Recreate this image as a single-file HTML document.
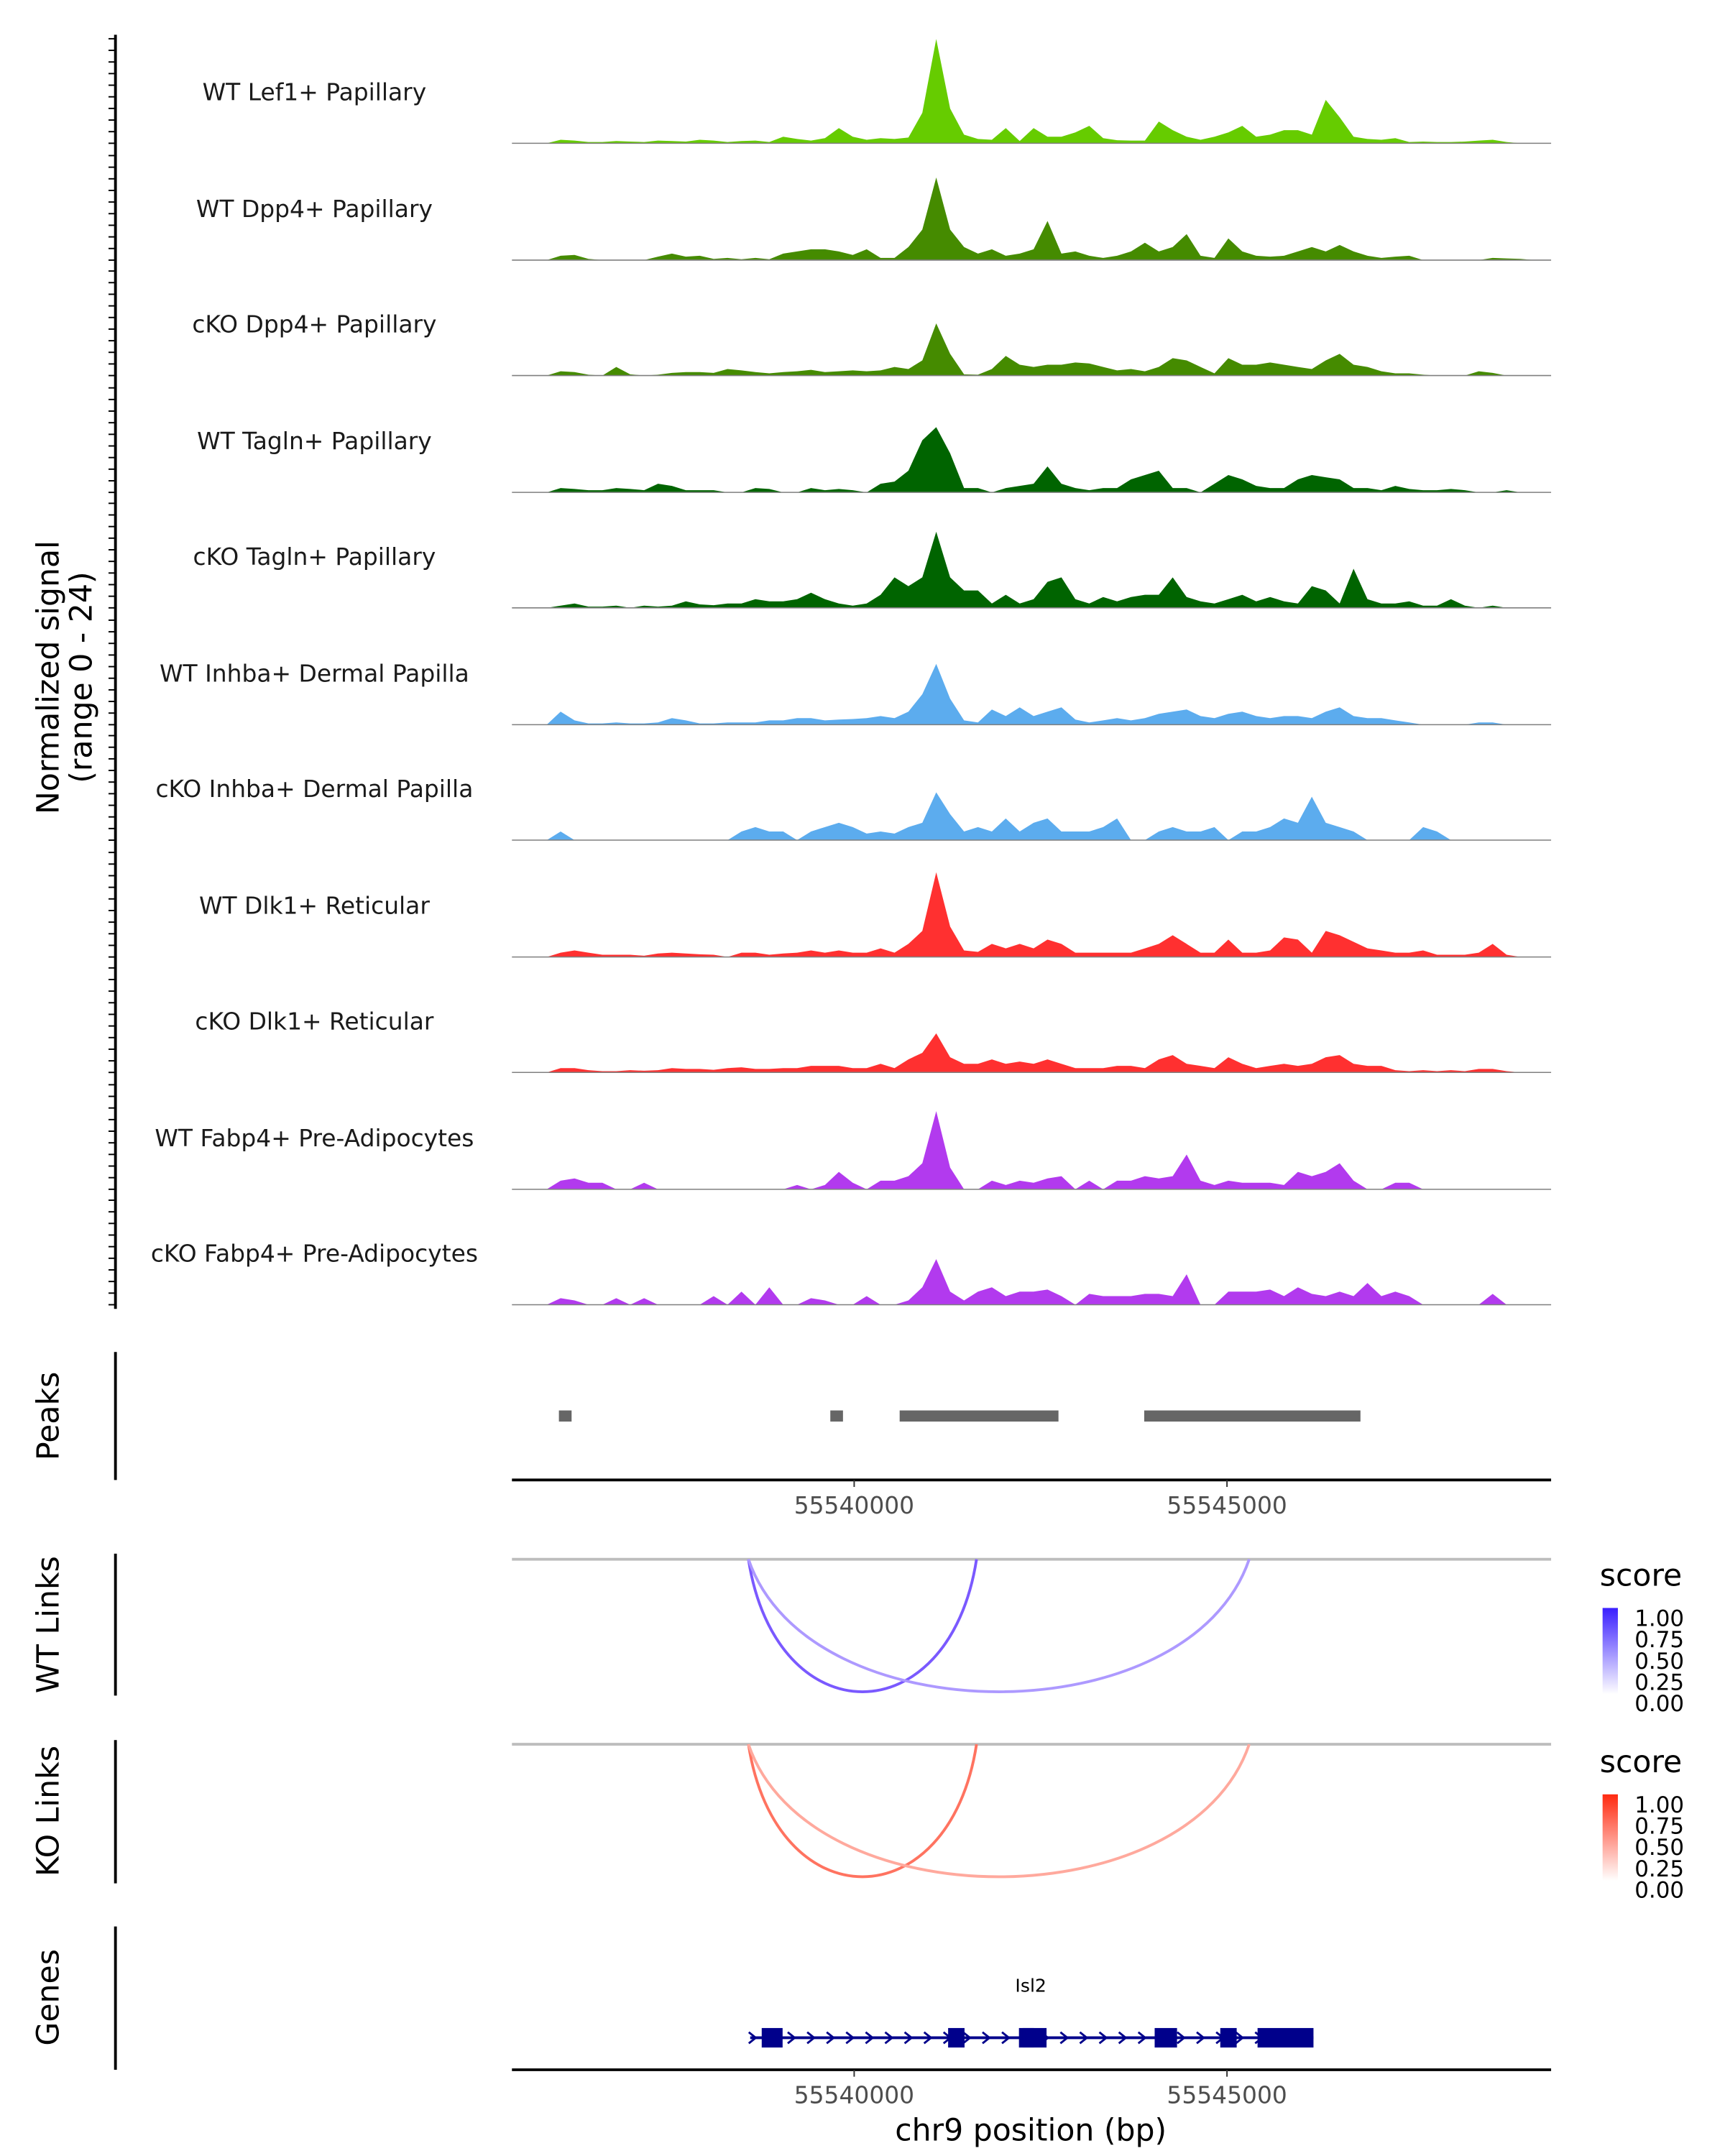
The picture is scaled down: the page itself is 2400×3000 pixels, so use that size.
<!DOCTYPE html>
<html><head><meta charset="utf-8"><style>
html,body{margin:0;padding:0;background:#fff;}
svg{display:block;font-family:"DejaVu Sans","Liberation Sans",sans-serif;}
</style></head><body>
<svg id="chart" width="2400" height="3000" viewBox="0 0 1240 1550" xmlns="http://www.w3.org/2000/svg">
<rect width="1240" height="1550" fill="#fff"/>
<g id="tracks"></g>
<g id="axes"></g>
</svg>
<script>
const trackNames = ["WT Lef1+ Papillary","WT Dpp4+ Papillary","cKO Dpp4+ Papillary","WT Tagln+ Papillary","cKO Tagln+ Papillary","WT Inhba+ Dermal Papilla","cKO Inhba+ Dermal Papilla","WT Dlk1+ Reticular","cKO Dlk1+ Reticular","WT Fabp4+ Pre-Adipocytes","cKO Fabp4+ Pre-Adipocytes"];
const trackColors = ["#66CC00","#458B00","#458B00","#006400","#006400","#5CACEE","#5CACEE","#FF3030","#FF3030","#B23AEE","#B23AEE"];
const sigLef1 = [0,0,0,0.8,0.6,0.3,0.3,0.5,0.4,0.3,0.6,0.5,0.4,0.8,0.6,0.3,0.5,0.6,0.3,1.5,1.0,0.6,1.2,3.5,1.5,0.8,1.2,1.0,1.3,7,24,8,2,1,0.8,3.5,0.5,3.5,1.5,1.5,2.5,4,1.2,0.7,0.6,0.6,5,3,1.5,0.8,1.5,2.5,4,1.5,2,3,3,2,10,6,1.5,1,0.8,1.2,0.3,0.4,0.3,0.3,0.4,0.6,0.8,0.3,0,0,0];
const sigWtDpp4 = [0,0,0,1,1.2,0.3,0,0,0,0,0.8,1.5,0.8,1,0.3,0.5,0.2,0.5,0.2,1.5,2,2.5,2.5,2,1.2,2.5,0.5,0.5,3,7,19,7,3,1.5,2.5,1,1.5,2.5,9,1.5,2,1,0.5,1,2,4,2,3,6,1,0.5,5,2,1,0.8,1,2,3,2,3.5,2,1,0.5,0.8,1,0,0,0,0,0,0.5,0.4,0.3,0,0];
const sigKoDpp4 = [0,0,0,1,0.8,0.2,0,2,0.3,0,0.2,0.6,0.8,0.8,0.6,1.5,1.2,0.8,0.5,0.8,1,1.3,0.8,1,1.2,1,1.2,2,1.5,3.5,12,5,0.3,0.2,1.5,4.5,2.5,2,2.5,2.5,3,2.8,2,1.2,1.5,1,2,4,3.5,2,0.5,4,2.5,2.5,3,2.5,2,1.5,3.5,5,2.5,2,1,0.5,0.5,0.2,0,0,0,1,0.6,0,0,0,0];
const sigWtTagln = [0,0,0,1,0.8,0.5,0.5,1,0.8,0.5,2,1.5,0.5,0.5,0.5,0,0,1,0.8,0,0,1,0.5,0.8,0.5,0,2,2.5,5,12,15,9,1,1,0,1,1.5,2,6,2,1,0.5,1,1,3,4,5,1,1,0,2,4,3,1.5,1,1,3,4,3.5,3,1,1,0.5,1.5,0.8,0.5,0.5,0.8,0.5,0,0,0.5,0,0,0];
const sigKoTagln = [0,0,0,0.5,1,0.3,0.3,0.5,0,0.5,0.3,0.5,1.5,0.8,0.6,1,1,2,1.5,1.5,2,3.5,2,1,0.5,1,3,7,5,7,17.5,7,4,4,1,3,1,2,6,7,2,1,2.5,1.5,2.5,3,3,7,2.5,1.5,1,2,3,1.5,2.5,1.5,1,5,4,1,9,2,1,1,1.5,0.5,0.5,2,0.5,0,0.5,0,0,0,0];
const sigWtInhba = [0,0,0,3,1,0.3,0.3,0.5,0.3,0.3,0.5,1.5,1,0.3,0.3,0.5,0.5,0.5,1,1,1.5,1.5,1,1.2,1.3,1.5,2,1.5,3,7,14,6,1,0.5,3.5,2,4,2,3,4,1.2,0.5,1,1.5,1,1.5,2.5,3,3.5,2,1.5,2.5,3,2,1.5,2,2,1.5,3,4,2,1.5,1.5,1,0.5,0,0,0,0,0.5,0.5,0,0,0,0];
const sigKoInhba = [0,0,0,2,0,0,0,0,0,0,0,0,0,0,0,0,2,3,2,2,0,2,3,4,3,1.5,2,1.5,3,4,11,6,2,3,2,5,2,4,5,2,2,2,3,5,0,0,2,3,2,2,3,0,2,2,3,5,4,10,4,3,2,0,0,0,0,3,2,0,0,0,0,0,0,0,0];
const sigWtDlk1 = [0,0,0,1,1.5,1,0.5,0.5,0.5,0.3,0.8,1,0.8,0.6,0.5,0,1,1,0.5,0.8,1,1.5,1,1.5,1,1,2,1,3,6,19.5,7,1.5,1.2,3,2,3,2,4,3,1,1,1,1,1,2,3,5,3,1,1,4,1,1,1.5,4.5,4,1,6,5,3.5,2,1.5,1,1,1.5,0.5,0.5,0.5,1,3,0.5,0,0,0];
const sigKoDlk1 = [0,0,0,1,1,0.5,0.3,0.3,0.5,0.4,0.5,1,0.8,0.8,0.6,1,1.2,0.8,0.8,1,1,1.5,1.5,1.5,1,1,2,1,3,4.5,9,3.5,2,2,3,2,2.5,2,3,2,1,1,1,1.5,1.5,1,3,4,2,1.5,1,3.5,2,1,1.5,2,1.5,2,3.5,4,2,1.5,1.5,0.5,0.3,0.5,0.3,0.5,0.3,0.8,0.8,0.3,0,0,0];
const sigWtFabp4 = [0,0,0,2,2.5,1.5,1.5,0,0,1.5,0,0,0,0,0,0,0,0,0,0,1,0,1,4,1.5,0,2,2,3,6,18,5,0,0,2,1,2,1.5,2.5,3,0,2,0,2,2,3,2.5,3,8,2,1,2,1.5,1.5,1.5,1,4,3,4,6,2,0,0,1.5,1.5,0,0,0,0,0,0,0,0,0,0];
const sigKoFabp4 = [0,0,0,1.5,1,0,0,1.5,0,1.5,0,0,0,0,2,0,3,0,4,0,0,1.5,1,0,0,2,0,0,1,4,10.5,3,1,3,4,2,3,3,3.5,2,0,2.5,2,2,2,2.5,2.5,2,7,0,0,3,3,3,3.5,2,4,2.5,2,3,2,5,2,3,2,0,0,0,0,0,2.5,0,0,0,0];
const signals = [sigLef1,sigWtDpp4,sigKoDpp4,sigWtTagln,sigKoTagln,sigWtInhba,sigKoInhba,sigWtDlk1,sigKoDlk1,sigWtFabp4,sigKoFabp4];
const yMax = 24;
const peakStarts = [55536040,55539680,55540610,55543890];
const peakEnds = [55536210,55539850,55542740,55546790];
const xTicks = [55540000,55545000];
const linkStarts = [55538582,55538582];
const linkEnds = [55541641,55545298];
const linkScores = [0.65,0.4];
const exonStarts = [55538760,55541260,55542210,55542260,55544030,55544910,55545410];
const exonEnds = [55539040,55541480,55542410,55542580,55544330,55545130,55546160];
const geneStart = 55538680, geneEnd = 55546160;

const NS="http://www.w3.org/2000/svg";
const X0=368, X1=1115, BP0=55535410, BP1=55549347;
const xs = bp => X0 + (bp-BP0)/(BP1-BP0)*(X1-X0);
const binW = 10;
function mk(tag, attrs, parent){const e=document.createElementNS(NS,tag);for(const k in attrs)e.setAttribute(k,attrs[k]);parent.appendChild(e);return e;}
const tg=document.getElementById('tracks');
const ax=document.getElementById('axes');
const baselines=[103,187,270,354,437,521,604,688,771,855,938];
const trackH=75;
signals.forEach((sig,t)=>{
  const b=baselines[t];
  const g=mk('g',{},tg);
  
  
  let d='M'+X0+','+b;
  sig.forEach((v,i)=>{const x=X0+binW*i+binW/2;const y=b-v/yMax*trackH;d+=' L'+x.toFixed(1)+','+y.toFixed(1);});
  d+=' L'+X1+','+b+' Z';
  const p=mk('path',{d:d,fill:trackColors[t],stroke:'none'},g);
  
  
  const bl=mk('line',{x1:X0,x2:X1,y1:b,y2:b,stroke:'#7f7f7f','stroke-width':0.8},g);
  
  
  const lb=mk('text',{x:226,y:b-31,'text-anchor':'middle','font-size':17,fill:'#1a1a1a'},g);
  lb.textContent=trackNames[t];
  
  
});
const la=mk('line',{x1:83,x2:83,y1:25,y2:941,stroke:'#000','stroke-width':2},ax);


for(let t=0;t<11;t++){for(let k=0;k<10;k++){const y=baselines[t]-83.5+k*8.35+8.35;if(y<25)continue;
 const tk=mk('line',{x1:78,x2:83,y1:y,y2:y,stroke:'#000','stroke-width':1},ax);
 
 }}
const yt=mk('text',{transform:'translate(42,487) rotate(-90)','text-anchor':'middle','font-size':22,fill:'#000'},ax);
yt.textContent='Normalized signal';


const yt2=mk('text',{transform:'translate(66,487) rotate(-90)','text-anchor':'middle','font-size':22,fill:'#000'},ax);
yt2.textContent='(range 0 - 24)';


function panel(name,y0,y1,labelY){
 const l=mk('line',{x1:83,x2:83,y1:y0,y2:y1,stroke:'#000','stroke-width':2},ax);
 
 
 const tx=mk('text',{transform:'translate(42,'+labelY+') rotate(-90)','text-anchor':'middle','font-size':22,fill:'#000'},ax);
 tx.textContent=name;
 
 
}
panel('Peaks',972,1064,1018);
panel('WT Links',1117,1219,1168);
panel('KO Links',1251,1354,1302);
panel('Genes',1385,1488,1436);
peakStarts.forEach((s,i)=>{
 const r=mk('rect',{x:xs(s),y:1014,width:Math.max(xs(peakEnds[i])-xs(s),2),height:8,fill:'#666'},ax);
 
 
});
function xAxis(y,name){
 const l=mk('line',{x1:X0,x2:X1,y1:y,y2:y,stroke:'#000','stroke-width':2},ax);
 
 
 xTicks.forEach(v=>{
  const tk=mk('line',{x1:xs(v),x2:xs(v),y1:y,y2:y+5,stroke:'#333','stroke-width':1},ax);
  
  
  const tl=mk('text',{x:xs(v),y:y+24,'text-anchor':'middle','font-size':17,fill:'#4d4d4d'},ax);
  tl.textContent=String(v);
  
  
 });
}
xAxis(1064,'peaks-x-axis');
xAxis(1488,'genes-x-axis');
const xt=mk('text',{x:741,y:1539,'text-anchor':'middle','font-size':22,fill:'#000'},ax);
xt.textContent='chr9 position (bp)';


function interp(c1,c2,s){const a=c1.match(/\w\w/g).map(h=>parseInt(h,16)),b=c2.match(/\w\w/g).map(h=>parseInt(h,16));return 'rgb('+a.map((v,i)=>Math.round(v+(b[i]-v)*s)).join(',')+')';}
function links(y0,lowC,highC,name){
 const bl=mk('line',{x1:X0,x2:X1,y1:y0,y2:y0,stroke:'#bdbdbd','stroke-width':2},ax);
 
 
 linkStarts.forEach((s,i)=>{
  const a=xs(s),b=xs(linkEnds[i]);const m=(a+b)/2;
  const p=mk('path',{d:'M'+a+','+y0+' C'+(a+(b-a)*0.12)+','+(y0+127)+' '+(b-(b-a)*0.12)+','+(y0+127)+' '+b+','+y0,fill:'none',stroke:interp(lowC,highC,linkScores[i]),'stroke-width':2},ax);
  
  
 });
}
links(1121,'ffffff','3300ff','wt-link');
links(1254,'ffffff','ff280a','ko-link');
function legend(y,c,id){
 const g=mk('g',{},ax);
 
 
 const d=mk('defs',{},g);
 const lg=mk('linearGradient',{id:id+'-g',x1:0,y1:1,x2:0,y2:0},d);
 mk('stop',{offset:'0','stop-color':'#ffffff'},lg);mk('stop',{offset:'1','stop-color':c},lg);
 const t=mk('text',{x:1150,y:y,'font-size':22,fill:'#000'},g);t.textContent='score';
 
 
 mk('rect',{x:1152,y:y+16,width:11,height:62,fill:'url(#'+id+'-g)'},g);
 ['1.00','0.75','0.50','0.25','0.00'].forEach((s,i)=>{
  const tl=mk('text',{x:1175,y:y+29+i*15.3,'font-size':16,fill:'#000'},g);tl.textContent=s;
  
  
 });
}
legend(1140,'#3a1fff','wt-score-legend');
legend(1274,'#ff2a10','ko-score-legend');
const gg=mk('g',{},ax);


mk('line',{x1:xs(geneStart)-4,x2:xs(geneEnd),y1:1465,y2:1465,stroke:'#00008B','stroke-width':2},gg);
for(let x=xs(geneStart)-2;x<xs(geneEnd);x+=14){mk('path',{d:'M'+(x-3)+',1461 L'+(x+2)+',1465 L'+(x-3)+',1469',fill:'none',stroke:'#00008B','stroke-width':1.5},gg);}
exonStarts.forEach((s,i)=>{
 const r=mk('rect',{x:xs(s),y:1458,width:xs(exonEnds[i])-xs(s),height:14,fill:'#00008B'},gg);
 
 
});
const gl=mk('text',{x:741,y:1432,'text-anchor':'middle','font-size':13,fill:'#000'},gg);
gl.textContent='Isl2';


</script>
</body></html>
